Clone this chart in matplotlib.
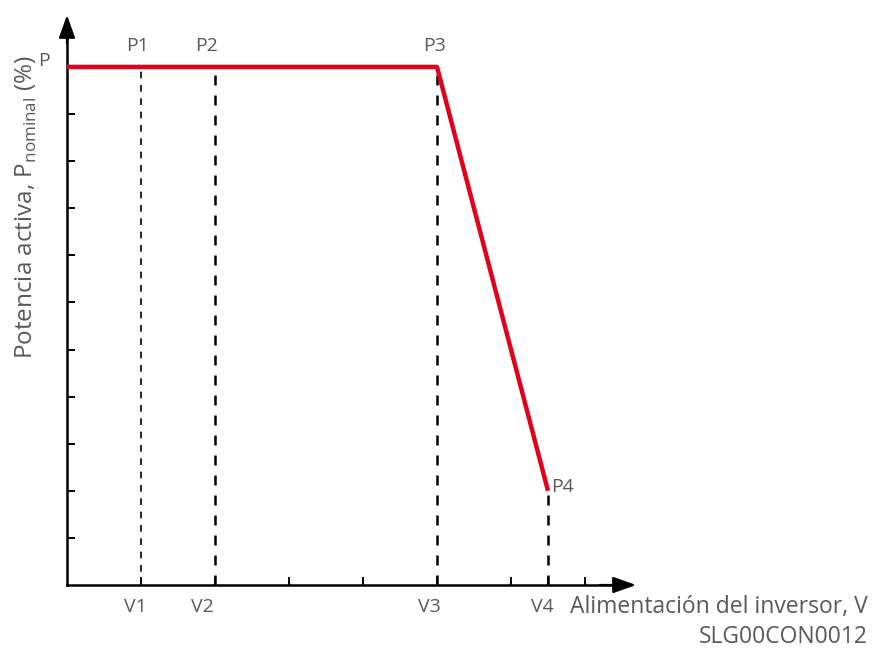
import matplotlib
matplotlib.use("Agg")
import matplotlib.pyplot as plt

plt.rcParams['font.family'] = ['Open Sans', 'DejaVu Sans']

# Characteristic curve: active power vs inverter supply voltage
curve_v = [0.0, 5.0, 6.5]          # voltage positions (x units)
curve_p = [11.0, 11.0, 2.0]        # power levels (y units)

v_marks = [1.0, 2.0, 5.0, 6.5]
v_labels = ["V1", "V2", "V3", "V4"]
p_marks = [11.0, 11.0, 11.0, 2.0]
p_labels = ["P1", "P2", "P3", "P4"]

x_ticks = [1, 2, 3, 4, 5, 6, 6.5, 7]
y_ticks = [1, 2, 3, 4, 5, 6, 7, 8, 9, 10]

gray = "#595959"
red = "#e2001a"

XPX, X0 = 74.0, 67.0      # pixels per x unit, pixel of x = 0
YPX, Y0 = 47.1, 585.0     # pixels per y unit, pixel row of y = 0

def px_x(p):
    return (p - X0) / XPX

def px_y(p):
    return (Y0 - p) / YPX

fig = plt.figure(figsize=(8.72, 6.49), dpi=100)
ax = fig.add_axes([0, 0, 1, 1])
ax.set_xlim(px_x(0), px_x(872))
ax.set_ylim(px_y(649), px_y(0))

for s in ("top", "right"):
    ax.spines[s].set_visible(False)
ax.spines["left"].set_position(("data", 0))
ax.spines["bottom"].set_position(("data", 0))
ax.spines["left"].set_bounds(0, 11.9)
ax.spines["bottom"].set_bounds(0, 7.4)
for s in ("left", "bottom"):
    ax.spines[s].set_linewidth(1.8)
    ax.spines[s].set_color("black")

ax.set_xticks(x_ticks)
ax.set_xticklabels([])
ax.set_yticks(y_ticks)
ax.set_yticklabels([])
ax.tick_params(axis="both", direction="in", length=6, width=1.4, color="black")

# Axis arrowheads
ax.annotate("", xy=(0, px_y(15)), xytext=(0, 11.5),
            arrowprops=dict(arrowstyle="-|>,head_length=1.4,head_width=0.5",
                            color="black", lw=1.6, shrinkA=0, shrinkB=0))
ax.annotate("", xy=(px_x(636), 0), xytext=(7.2, 0),
            arrowprops=dict(arrowstyle="-|>,head_length=1.4,head_width=0.5",
                            color="black", lw=1.6, shrinkA=0, shrinkB=0))

# Dashed guide lines
for i, (v, p) in enumerate(zip(v_marks, p_marks)):
    lw = 1.2 if i == 0 else 1.8
    ax.plot([v, v], [0, p], color="black", lw=lw, ls=(0, (4, 4)), zorder=2)

# Power curve
ax.plot(curve_v, curve_p, color=red, lw=3.2, solid_joinstyle="round",
        solid_capstyle="butt", zorder=3)

# Labels
fs = 14
v_shift = [-0.08, -0.17, -0.1, -0.08]
for v, lab, dx in zip(v_marks, v_labels, v_shift):
    ax.text(v + dx, px_y(607), lab, ha="center", va="center", fontsize=fs, color=gray)
p_shift = [-0.05, -0.12, -0.03]
for v, p, lab, dx in zip(v_marks[:3], p_marks[:3], p_labels[:3], p_shift):
    ax.text(v + dx, px_y(46), lab, ha="center", va="center", fontsize=fs, color=gray)
ax.text(v_marks[3] + 0.04, px_y(487), p_labels[3], ha="left", va="center",
        fontsize=fs, color=gray)
ax.text(px_x(44), px_y(61), "P", ha="center", va="center", fontsize=fs, color=gray)

ax.text(px_x(26), px_y(207), r"Potencia activa, P$_{\mathregular{nominal}}$ (%)",
        rotation=90, ha="center", va="center", fontsize=17.5, color=gray)
ax.text(px_x(868), px_y(607), "Alimentación del inversor, V", ha="right",
        va="center", fontsize=16.5, color=gray)
ax.text(px_x(868), px_y(637), "SLG00CON0012", ha="right", va="center",
        fontsize=16.5, color=gray)

fig.savefig("out.png", dpi=100)
